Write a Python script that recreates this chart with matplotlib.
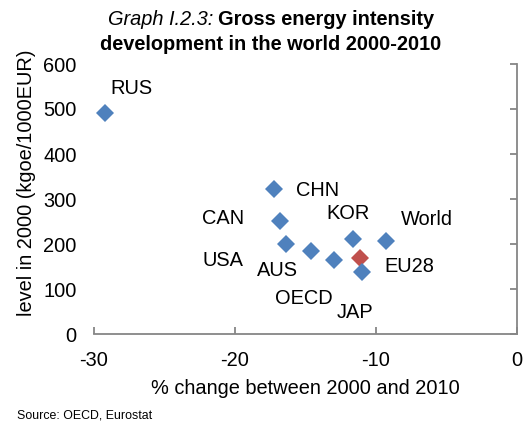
import matplotlib
matplotlib.use("Agg")
import matplotlib.pyplot as plt

plt.rcParams['font.family'] = ['Liberation Sans', 'DejaVu Sans']
plt.rcParams['axes.unicode_minus'] = False

# Data: % change 2000-2010 vs. level in 2000 (kgoe/1000EUR)
countries = ["RUS", "CHN", "CAN", "USA", "AUS", "OECD", "KOR", "World", "EU28", "JAP"]
pct_change = [-29.2, -17.2, -16.8, -16.4, -14.6, -13.0, -11.6, -9.3, -11.1, -11.0]
level_2000 = [491, 323, 250, 201, 184, 165, 212, 206, 168, 138]

# label placement relative to each marker (pixels, x right / y up)
label_offsets = {
    "RUS": (26, 19), "CHN": (43, -7), "CAN": (-57, -2), "USA": (-63, -22),
    "AUS": (-34, -25), "OECD": (-30, -44), "KOR": (-5, 20), "World": (41, 16),
    "EU28": (49, -14), "JAP": (-7, -46),
}

blue = "#4F81BD"
red = "#C0504D"
spine_col = "#868686"
fs = 14.4

fig = plt.figure(figsize=(5.26, 4.23), dpi=100)
ax = fig.add_axes([94/526, 1-334/423, (517-94)/526, (334-64)/423])

for name, x, y in zip(countries, pct_change, level_2000):
    col = red if name == "EU28" else blue
    ax.plot([x], [y], marker="D", markersize=8.8, color=col, linestyle="none",
            markeredgewidth=0, zorder=3)
    dx, dy = label_offsets[name]
    ax.annotate(name, (x, y), xytext=(dx, dy), textcoords="offset pixels",
                ha="center", va="baseline", fontsize=fs, color="black")

ax.set_xlim(-30, 0)
ax.set_ylim(0, 600)
ax.set_xticks([-30, -20, -10, 0])
ax.set_yticks(range(0, 601, 100))

for side in ["top", "left"]:
    ax.spines[side].set_visible(False)
for side in ["bottom", "right"]:
    ax.spines[side].set_color(spine_col)
    ax.spines[side].set_linewidth(1.3)

ax.tick_params(axis="x", direction="in", length=5, width=1.3, color=spine_col,
               labelsize=fs, pad=12)
ax.tick_params(axis="y", left=False, right=True, labelleft=True, labelright=False,
               direction="in", length=5, width=1.3, color=spine_col,
               labelsize=fs, pad=12.5)

ax.set_xlabel("% change between 2000 and 2010", fontsize=fs, labelpad=7)
ax.set_ylabel("level in 2000 (kgoe/1000EUR)", fontsize=fs)
ax.yaxis.set_label_coords((36 - 94) / 423, 1 - (183 - 64) / 270)

# first title line: italic prefix + bold remainder, centred together
t_it = fig.text(0, 0, "Graph I.2.3: ", fontsize=fs, style="italic")
t_bd = fig.text(0, 0, "Gross energy intensity", fontsize=fs, weight="bold")
fig.canvas.draw()
r = fig.canvas.get_renderer()
w_it = t_it.get_window_extent(r).width
w_bd = t_bd.get_window_extent(r).width
W = fig.bbox.width
x0 = 271 - (w_it + w_bd) / 2
t_it.set_position((x0 / W, 1 - 25/423))
t_bd.set_position(((x0 + w_it) / W, 1 - 25/423))
fig.text(271/526, 1-50/423, "development in the world 2000-2010", fontsize=fs,
         weight="bold", ha="center", va="baseline")

fig.text(17/526, 1-418/423, "Source: OECD, Eurostat", fontsize=8.9, ha="left",
         va="baseline")

fig.savefig("out.png", dpi=100)
